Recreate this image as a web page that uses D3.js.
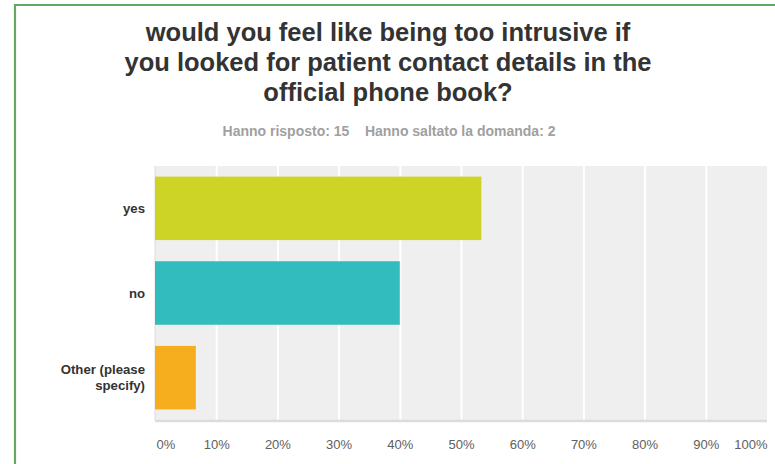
<!DOCTYPE html>
<html>
<head>
<meta charset="utf-8">
<script src="https://cdn.jsdelivr.net/npm/d3@7"></script>
<style>
  html, body { margin: 0; padding: 0; background: #fff; }
  svg { display: block; font-family: "Liberation Sans", Arial, sans-serif; }
</style>
</head>
<body>
<svg id="chart" width="775" height="464"></svg>
<script>
// ---- data ----
const titleLines = [
  "would you feel like being too intrusive if",
  "you looked for patient contact details in the",
  "official phone book?"
];
const subtitle = "Hanno risposto: 15    Hanno saltato la domanda: 2";
const categories = ["yes", "no", "Other (please specify)"];
const categoryLines = [["yes"], ["no"], ["Other (please", "specify)"]];
const values = [53.33, 40.0, 6.67];
const barColors = ["#cdd426", "#32bcbd", "#f6ae1e"];
const tickValues = [0, 10, 20, 30, 40, 50, 60, 70, 80, 90, 100];

// ---- layout ----
const W = 775, H = 464;
const plot = { left: 155, right: 767, top: 166, bottom: 420 };

const svg = d3.select("#chart");

// frame (green border top & left)
svg.append("path")
  .attr("d", `M15,${H} V5 H${W}`)
  .attr("fill", "none")
  .attr("stroke", "#62a863")
  .attr("stroke-width", 2.2);

// title
const title = svg.append("text")
  .attr("text-anchor", "middle")
  .attr("font-size", 25.5)
  .attr("font-weight", "bold")
  .attr("fill", "#333");
titleLines.forEach((t, i) => {
  title.append("tspan").attr("x", 388).attr("y", 41 + i * 30).text(t);
});

// subtitle
svg.append("text")
  .attr("x", 389).attr("y", 136)
  .attr("text-anchor", "middle")
  .attr("font-size", 14)
  .attr("font-weight", "bold")
  .attr("fill", "#a0a0a0")
  .style("white-space", "pre")
  .text(subtitle);

// scales
const x = d3.scaleLinear().domain([0, 100]).range([plot.left, plot.right]);
const y = d3.scaleBand().domain(categories)
  .range([plot.top, plot.bottom])
  .paddingInner(0.25).paddingOuter(0.125);

// plot background
svg.append("rect")
  .attr("x", plot.left).attr("y", plot.top)
  .attr("width", plot.right - plot.left).attr("height", plot.bottom - plot.top)
  .attr("fill", "#efefef");

// gridlines
const grid = svg.append("g")
  .attr("transform", `translate(0,${plot.bottom})`)
  .call(d3.axisBottom(x).tickValues(tickValues.slice(1, -1)).tickSize(-(plot.bottom - plot.top)).tickFormat(""));
grid.select(".domain").remove();
grid.selectAll("line").attr("stroke", "#ffffff").attr("stroke-width", 2);

// left and bottom shadow lines
svg.append("line")
  .attr("x1", plot.left).attr("x2", plot.left)
  .attr("y1", plot.top).attr("y2", plot.bottom)
  .attr("stroke", "#dcdcdc").attr("stroke-width", 1);
svg.append("line")
  .attr("x1", plot.left).attr("x2", plot.right)
  .attr("y1", plot.bottom + 1).attr("y2", plot.bottom + 1)
  .attr("stroke", "#dcdcdc").attr("stroke-width", 2.5);

// bars
svg.append("g").selectAll("rect")
  .data(categories)
  .join("rect")
  .attr("x", x(0))
  .attr("y", d => y(d))
  .attr("width", (d, i) => x(values[i]) - x(0))
  .attr("height", y.bandwidth())
  .attr("fill", (d, i) => barColors[i]);

// x axis labels
const xAxis = svg.append("g")
  .attr("transform", `translate(0,${plot.bottom})`)
  .call(d3.axisBottom(x).tickValues(tickValues).tickSize(0).tickPadding(0).tickFormat(d => d + "%"));
xAxis.select(".domain").remove();
xAxis.selectAll("text")
  .attr("y", 29)
  .attr("dy", 0)
  .attr("font-size", 13)
  .attr("font-family", "'Liberation Sans', Arial, sans-serif")
  .attr("fill", "#606060")
  .attr("text-anchor", (d, i) => i === 0 ? "start" : (i === tickValues.length - 1 ? "end" : "middle"))
  .attr("dx", (d, i) => i === 0 ? 1 : 0);

// y labels
const yl = svg.append("g");
categories.forEach((c, i) => {
  const lines = categoryLines[i];
  const cy = y(c) + y.bandwidth() / 2;
  const lh = 15.5;
  const t = yl.append("text")
    .attr("text-anchor", "end")
    .attr("font-size", 13.2)
    .attr("font-weight", "bold")
    .attr("fill", "#333");
  lines.forEach((l, j) => {
    t.append("tspan")
      .attr("x", 145)
      .attr("y", cy + (j - (lines.length - 1) / 2) * lh + 4.5)
      .text(l);
  });
});
</script>
</body>
</html>
